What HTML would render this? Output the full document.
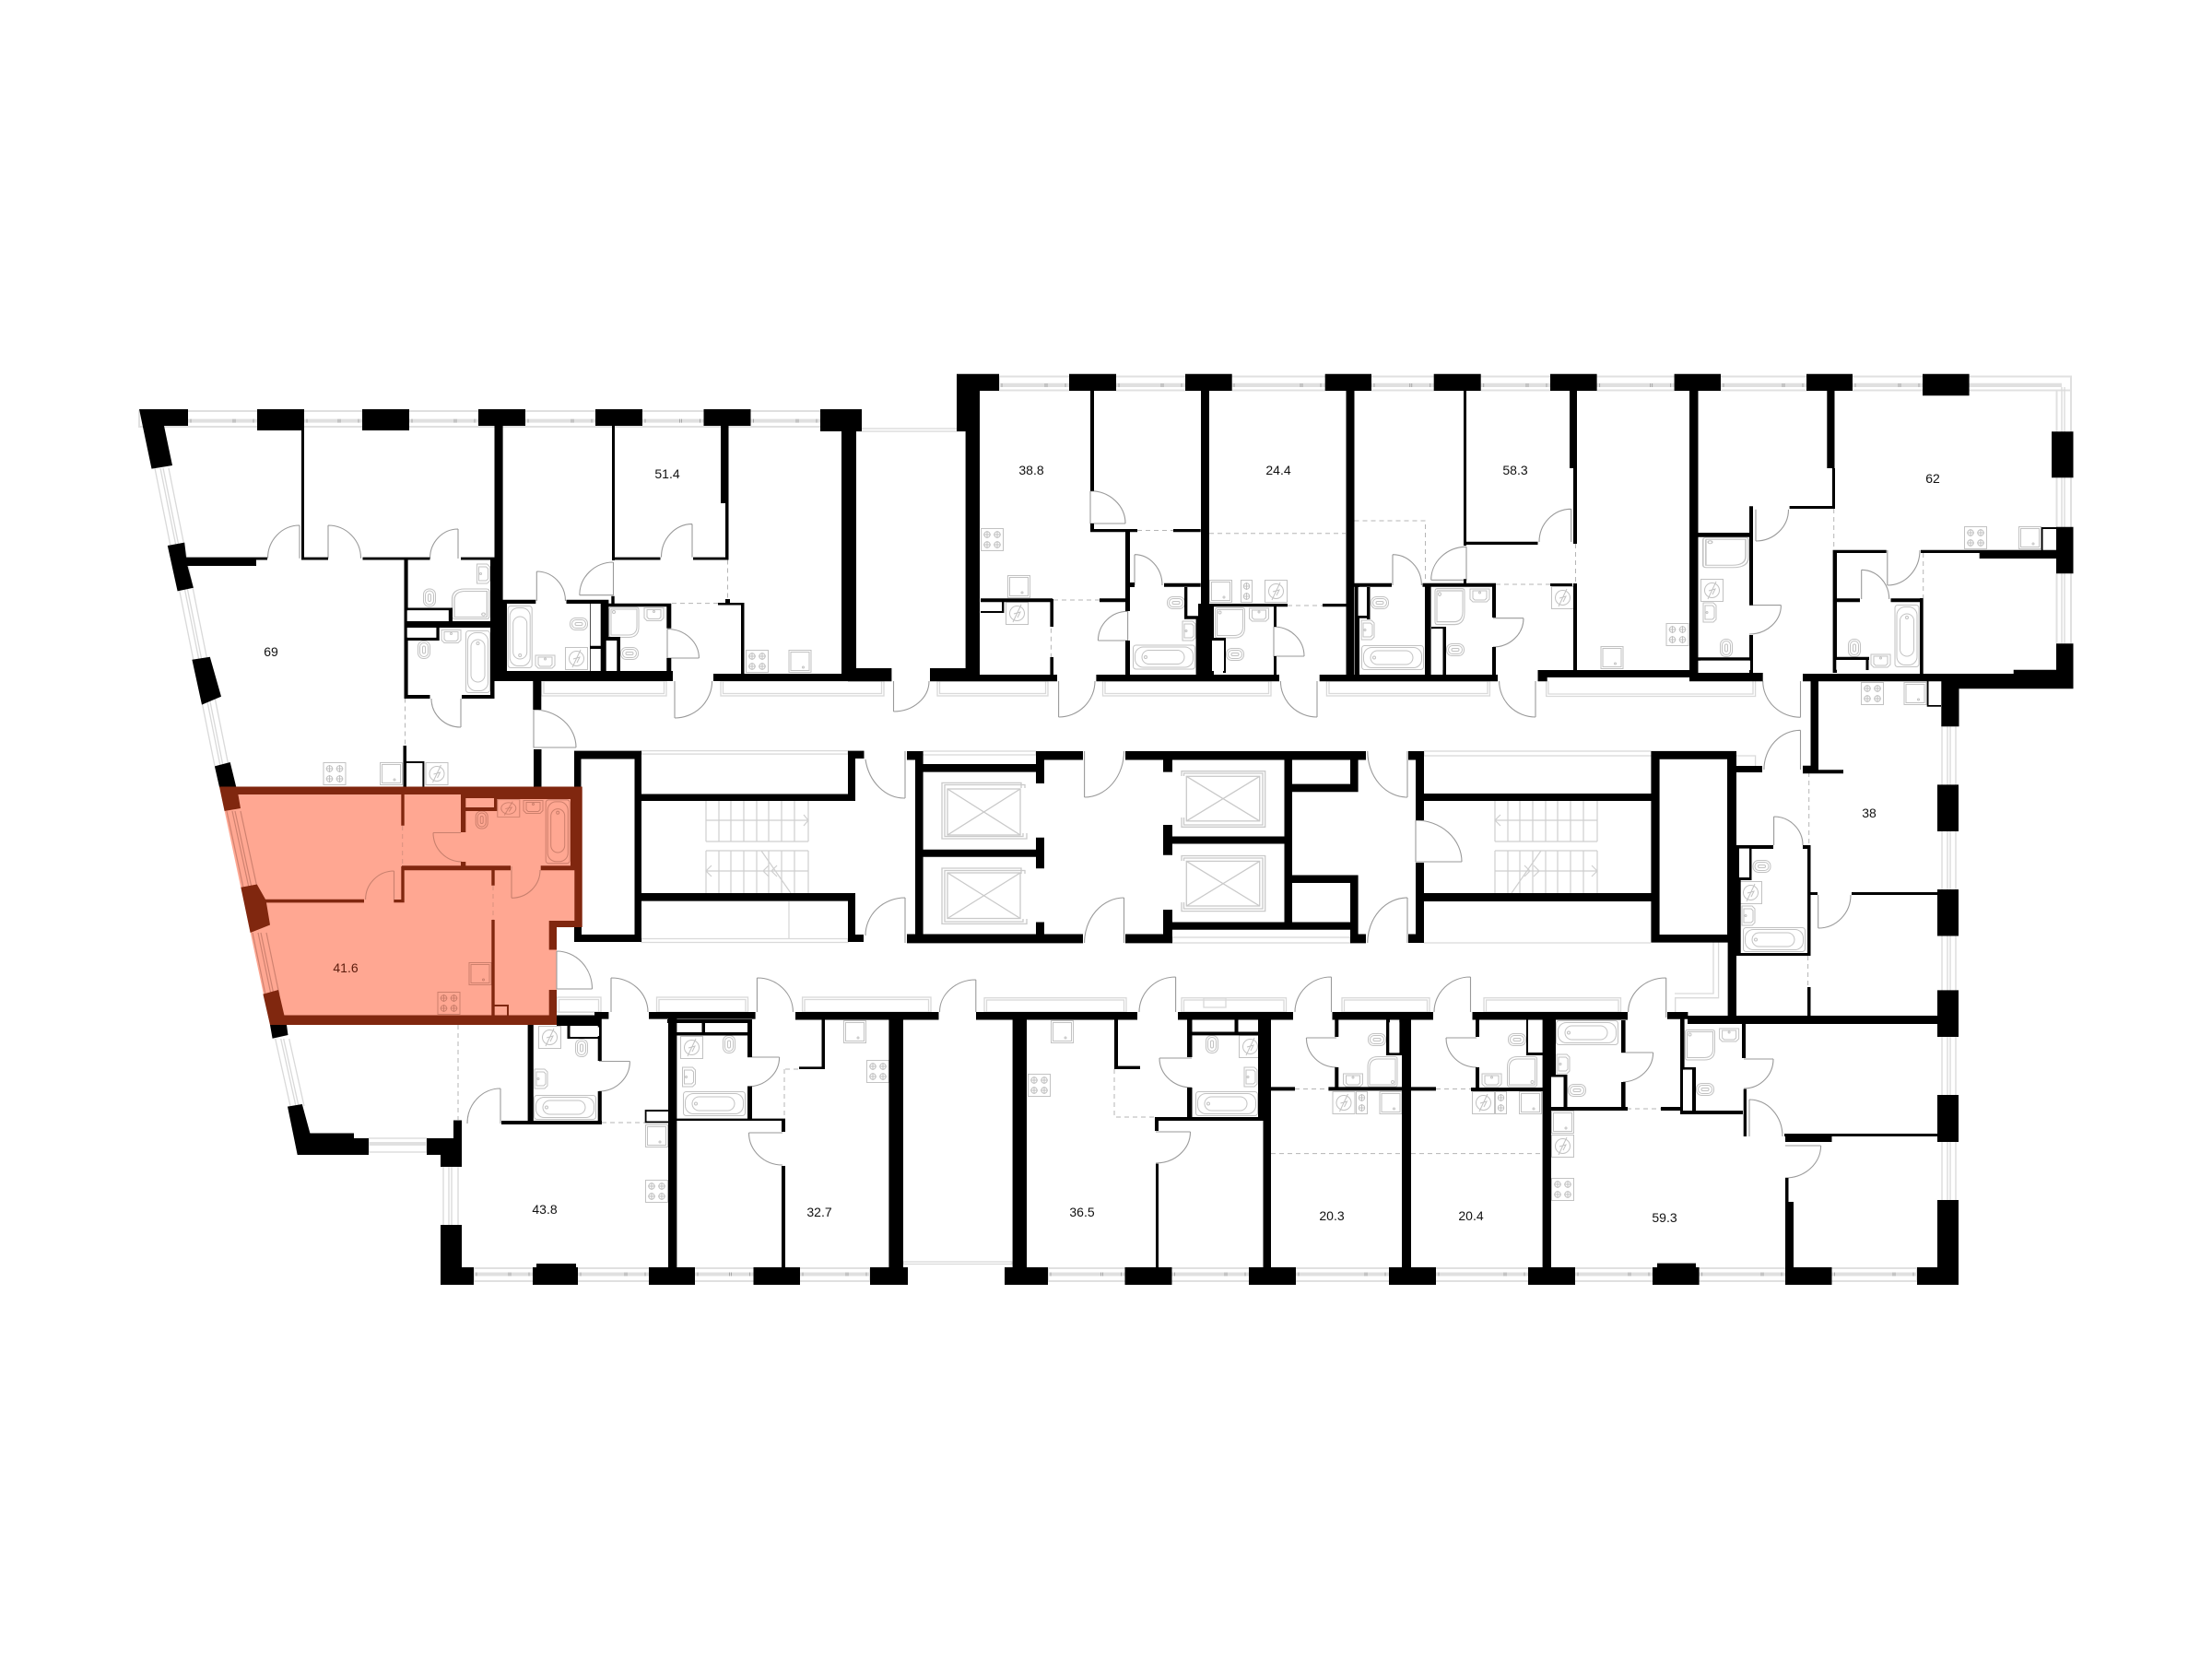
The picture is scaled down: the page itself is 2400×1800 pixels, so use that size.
<!DOCTYPE html>
<html><head><meta charset="utf-8"><title>Floor plan</title>
<style>html,body{margin:0;padding:0;background:#fff}svg{display:block}text{font-family:"Liberation Sans",sans-serif;font-size:14px;text-anchor:middle;fill:#111}</style>
</head><body>
<svg xmlns="http://www.w3.org/2000/svg" width="2400" height="1800" viewBox="0 0 2400 1800">
<defs>
<g id="st" fill="none"><rect x=".5" y=".5" width="24" height="24"/><circle cx="7" cy="7" r="3.2"/><circle cx="18" cy="7" r="3.2"/><circle cx="7" cy="18" r="3.2"/><circle cx="18" cy="18" r="3.2"/><path d="M7 3v8M3 7h8M18 3v8M14 7h8M7 14v8M3 18h8M18 14v8M14 18h8"/></g>
<g id="sc" fill="none"><rect x=".5" y=".5" width="12" height="24"/><circle cx="6.5" cy="7" r="3.2"/><circle cx="6.5" cy="18" r="3.2"/><path d="M6.5 3v8M3 7h7M6.5 14v8M3 18h7"/></g>
<g id="sq" fill="none"><rect x=".5" y=".5" width="24" height="24"/><rect x="2.5" y="2.5" width="20" height="20"/><circle cx="16" cy="19" r="1"/></g>
<g id="vt" fill="none"><rect x=".5" y=".5" width="24" height="24"/><circle cx="12.5" cy="12.5" r="8"/><path d="M8 22L17 3M9 13l7-2-3 6"/></g>
<g id="ba" fill="none"><rect x=".5" y=".5" width="26" height="67" rx="3"/><rect x="2.5" y="2.5" width="22" height="63" rx="9"/><rect x="6" y="10" width="15" height="46" rx="7.5"/><circle cx="13.5" cy="14" r="1.5"/></g>
<g id="to" fill="none"><rect x=".5" y=".5" width="13" height="19" rx="6"/><rect x="2.5" y="2.5" width="9" height="15" rx="4.5"/><rect x="5.5" y="6" width="3" height="8" rx="1.5"/></g>
<g id="si" fill="none"><path d="M1 1h21v11l-3 3H4l-3-3z"/><path d="M4 3h15v8l-2 2H6l-2-2z"/><circle cx="11.5" cy="5" r="1"/></g>
<g id="sh" fill="none"><path d="M3 .5H30q2.500 0 2.500 2.500V22q0 11-11 11H3q-2.500 0-2.500-2.500V3Q.5.5 3 .5z"/><path d="M3 2.500H30.500V21q0 9.500-9.500 9.500H2.500V3z"/><circle cx="5.500" cy="5.500" r="1.500"/></g>
</defs>

<!-- windows -->
<g fill="none" stroke="#e0e0e0" stroke-width="2">
<rect x="151" y="446" width="779" height="17"/>
<rect x="1084" y="408.500" width="1163" height="15"/>
<rect x="514" y="1376" width="430" height="14"/>
<rect x="1137" y="1376" width="943" height="14"/>
<path d="M2231.500 424V698M2247 408V698"/>
</g>
<g fill="none" stroke="#d9d9d9" stroke-width="1.3">
<rect x="929" y="465" width="119" height="3"/>
<path d="M2237 420V698M2240 420V698"/>
<rect x="980" y="1369" width="118" height="2.500"/>
<rect x="587.500" y="739" width="135.500" height="16"/><rect x="590" y="739" width="130.500" height="13.500"/>
<rect x="782" y="739" width="177" height="16"/><rect x="784.500" y="739" width="172" height="13.500"/>
<rect x="1017" y="739" width="120" height="16"/><rect x="1019.500" y="739" width="115" height="13.500"/>
<rect x="1196.500" y="739" width="182.500" height="16"/><rect x="1199" y="739" width="177.500" height="13.500"/>
<rect x="1439.400" y="739" width="177" height="16"/><rect x="1442" y="739" width="172" height="13.500"/>
<path d="M1677.700 739V755.500H1904.600V739M1680 739V753H1902V739"/>
<rect x="696" y="814.600" width="224" height="3.500"/>
<rect x="696" y="1018.500" width="224" height="4"/>
<path d="M856 978V1019"/>
<rect x="1001" y="815" width="123" height="4"/>
<rect x="1272" y="1017" width="193" height="6"/>
<rect x="1545" y="815" width="338" height="5"/>
<path d="M1883 820h21.600v11M1545 1023h246"/>
<path d="M1864.600 1021V1082.700H1817.700V1098M1859 1021V1078H1817"/>
<rect x="604" y="1082" width="48" height="16"/><rect x="606.500" y="1084.500" width="43" height="14"/>
<rect x="712.500" y="1082" width="99" height="16"/><rect x="715" y="1084.500" width="94" height="14"/>
<rect x="870.600" y="1082" width="139.400" height="16"/><rect x="873" y="1084.500" width="134.500" height="14"/>
<rect x="1068" y="1082.700" width="154" height="15.300"/><rect x="1070.500" y="1085" width="149" height="13.500"/>
<rect x="1282" y="1082.700" width="113.500" height="15.300"/><rect x="1284.500" y="1085" width="108.500" height="13.500"/>
<rect x="1306" y="1083" width="24" height="10"/>
<rect x="1456" y="1082.700" width="95" height="15.300"/><rect x="1458.500" y="1085" width="90" height="13.500"/>
<rect x="1610" y="1082.700" width="148.500" height="15.300"/><rect x="1612.500" y="1085" width="143.500" height="13.500"/>
<rect x="400" y="1235" width="63" height="15"/>
<path d="M481 1266V1329M497 1266V1329M487 1266V1329M490 1266V1329"/>
<path d="M2107 788V1302M2122 788V1302M2113 788V1302M2116 788V1302"/>
<path d="M168 508L233 831M174 508L239 831M177 508L242 831M183 508L248 831"/>
<path d="M298.700 1127L315 1200M304.700 1127L321 1200M307.700 1127L324 1200M313.700 1127L330 1200"/>
</g>
<g fill="#e0e0e0">
<rect x="204" y="454.600" width="686" height="4"/>
<rect x="1084" y="415.700" width="1153" height="4.300"/>
<rect x="514" y="1380.500" width="430" height="4"/>
<rect x="1137" y="1380.500" width="943" height="4"/>
<rect x="400" y="1239" width="63" height="4"/>
</g>
<path fill="none" stroke="#a8a8a8" stroke-width="1" d="
M207 454.600v4M255 454.600v4M253 454.600v4M275 454.600v4M333 454.600v4M369 454.600v4M367 454.600v4M389 454.600v4M447 454.600v4M495 454.600v4M493 454.600v4M515 454.600v4M573 454.600v4M622 454.600v4M620 454.600v4M642 454.600v4M700 454.600v4M739.500 454.600v4M737.500 454.600v4M759.500 454.600v4M817.500 454.600v4M866 454.600v4M864 454.600v4M886 454.600v4
M1087 416v4M1136 416v4M1134 416v4M1156 416v4M1214 416v4M1262 416v4M1260 416v4M1282 416v4M1339 416v4M1413 416v4M1411 416v4M1433 416v4M1491 416v4M1531.700 416v4M1529.700 416v4M1551.700 416v4M1609.700 416v4M1658 416v4M1656 416v4M1678 416v4M1735.600 416v4M1792.600 416v4M1790.600 416v4M1812.600 416v4M1870 416v4M1936 416v4M1934 416v4M1956 416v4M2013 416v4M2062 416v4M2060 416v4M2082 416v4
M517 1380.500v4M554 1380.500v4M552 1380.500v4M574 1380.500v4M630 1380.500v4M680 1380.500v4M678 1380.500v4M700 1380.500v4M757 1380.500v4M793.500 1380.500v4M791.500 1380.500v4M813.500 1380.500v4M871 1380.500v4M920 1380.500v4M918 1380.500v4M940 1380.500v4M1140 1380.500v4M1196.500 1380.500v4M1194.500 1380.500v4M1216.500 1380.500v4M1274.500 1380.500v4M1331 1380.500v4M1329 1380.500v4M1351 1380.500v4M1409 1380.500v4M1483 1380.500v4M1481 1380.500v4M1503 1380.500v4M1561 1380.500v4M1634 1380.500v4M1632 1380.500v4M1654 1380.500v4M1712 1380.500v4M1769 1380.500v4M1767 1380.500v4M1789 1380.500v4M1846.600 1380.500v4M1913 1380.500v4M1911 1380.500v4M1933 1380.500v4M1990.500 1380.500v4M2056 1380.500v4M2054 1380.500v4M2076 1380.500v4"/>

<!-- red apartment fill -->
<path fill="#ffa792" d="M238 853.500H631.700V1006H604V1112H293z"/>
<g fill="none" stroke="#cf8270" stroke-width="1.2">
<path d="M246 880L264 963M252 880L270 963M255 880L273 963M261 880L279 963M274 1012L288 1079M280 1012L294 1079M283 1012L297 1079M289 1012L303 1079"/>
</g>

<!-- fixtures -->
<g stroke="#c2c2c2" stroke-width="1">
<use href="#st" x="350.500" y="827"/><use href="#sq" x="412" y="827"/><use href="#vt" x="461.500" y="827"/>
<use href="#ba" x="505" y="684"/><use href="#si" x="478" y="682.500"/><use href="#to" x="453" y="695"/>
<use href="#sh" transform="translate(531.500,672) rotate(180) scale(1.260,1)"/><use href="#si" transform="translate(516.500,634) rotate(-90)"/><use href="#to" x="459" y="638.500"/>
<use href="#ba" transform="translate(550.700,725) scale(1,-1)"/><use href="#si" x="580" y="710"/><use href="#vt" x="613" y="702"/><use href="#to" transform="translate(618,684) rotate(-90)"/>
<use href="#sh" x="660.500" y="658.500"/><use href="#si" x="698" y="658.500"/><use href="#to" transform="translate(673,716) rotate(-90)"/>
<use href="#st" x="809" y="705"/><use href="#sq" x="855.500" y="705"/>
<use href="#vt" x="584" y="1113"/><use href="#to" x="624" y="1127"/><use href="#si" transform="translate(579,1182) rotate(-90)"/><use href="#ba" transform="translate(579,1215) rotate(-90)"/>
<use href="#sq" x="700" y="1220"/><use href="#st" x="700" y="1280"/>
<use href="#vt" x="738" y="1124"/><use href="#to" x="784" y="1123"/><use href="#si" transform="translate(739.500,1180) rotate(-90)"/><use href="#ba" transform="translate(741,1211) rotate(-90)"/>
<use href="#sq" x="915" y="1107"/><use href="#st" x="940" y="1150"/><use href="#sq" x="1140" y="1107"/><use href="#st" x="1115" y="1165"/>
<use href="#to" x="1308" y="1123"/><use href="#vt" x="1344" y="1123"/><use href="#si" transform="translate(1349,1180) rotate(-90)"/><use href="#ba" transform="translate(1297,1211) rotate(-90)"/>
<use href="#to" transform="translate(1484,1135) rotate(-90)"/><use href="#sh" transform="translate(1516.500,1179.500) rotate(180)"/><use href="#si" x="1456.500" y="1164"/><use href="#vt" x="1445.500" y="1184"/><use href="#sc" x="1471" y="1184"/><use href="#sq" x="1496.500" y="1184"/>
<use href="#to" transform="translate(1636,1135) rotate(-90)"/><use href="#sh" transform="translate(1668,1179.500) rotate(180)"/><use href="#si" x="1607" y="1164"/><use href="#vt" x="1597" y="1184"/><use href="#sc" x="1622" y="1184"/><use href="#sq" x="1648" y="1184"/>
<use href="#ba" transform="translate(1688,1134) rotate(-90)"/><use href="#si" transform="translate(1688,1166) rotate(-90)"/><use href="#to" transform="translate(1701,1190) rotate(-90)"/><use href="#sq" x="1683" y="1205"/><use href="#vt" x="1683" y="1231"/><use href="#st" x="1683" y="1278"/>
<use href="#sh" x="1828" y="1117"/><use href="#si" x="1864.600" y="1115"/><use href="#to" transform="translate(1840,1189) rotate(-90)"/>
<use href="#to" transform="translate(1901.500,947) rotate(-90)"/><use href="#vt" x="1887" y="956"/><use href="#si" transform="translate(1889,1005) rotate(-90)"/><use href="#ba" transform="translate(1891,1033) rotate(-90)"/>
<use href="#st" x="1064" y="573"/><use href="#sq" x="1093" y="624"/><use href="#vt" x="1091" y="653"/>
<use href="#to" transform="translate(1266,661) rotate(-90)"/><use href="#si" transform="translate(1282,696) rotate(-90)"/><use href="#ba" transform="translate(1229,726.500) rotate(-90)"/>
<use href="#sq" x="1312" y="629"/><use href="#sc" x="1346" y="629"/><use href="#vt" x="1372" y="629"/><use href="#sh" x="1318" y="659"/><use href="#si" x="1354.500" y="659"/><use href="#to" transform="translate(1330,717) rotate(-90)"/>
<use href="#to" transform="translate(1487,661) rotate(-90)"/><use href="#si" transform="translate(1476,695) rotate(-90)"/><use href="#ba" transform="translate(1477,727) rotate(-90)"/>
<use href="#sh" transform="translate(1556.500,638) scale(1,1.200)"/><use href="#si" x="1594" y="638"/><use href="#to" transform="translate(1569,712) rotate(-90)"/><use href="#vt" x="1683" y="636"/>
<use href="#st" x="1807.500" y="676"/><use href="#sq" x="1736.500" y="701"/>
<use href="#sh" transform="translate(1847,582.700) scale(1.540,1)"/><use href="#vt" x="1845" y="628"/><use href="#si" transform="translate(1847,676) rotate(-90)"/><use href="#to" x="1866" y="693"/>
<use href="#st" x="2131" y="571"/><use href="#sq" x="2190" y="571"/><use href="#ba" x="2055.500" y="656"/><use href="#to" x="2005" y="693"/><use href="#si" x="2029" y="709"/>
<use href="#st" x="2019" y="740"/><use href="#sq" x="2065.500" y="740"/>
</g>
<g stroke="#cc7f6c" stroke-width="1">
<use href="#vt" transform="translate(539.300,867.300) scale(1,.78)"/><use href="#si" x="567" y="867.500"/><use href="#ba" transform="translate(591.700,867.300) scale(1,1.030)"/><use href="#to" x="515.700" y="879.500"/><use href="#sq" x="508.500" y="1044"/><use href="#st" x="474.500" y="1076"/>
</g>

<!-- stairs and lifts -->
<g fill="none" stroke="#cfcfcf" stroke-width="1.200">
<path d="M766 869V913M780 869V913M793 869V913M807 869V913M821 869V913M834 869V913M848 869V913M862 869V913M877 869V913M766 923V969M780 923V969M793 923V969M807 923V969M821 923V969M834 923V969M848 923V969M862 923V969M877 923V969"/>
<path d="M766 890H877M766 913H877M766 923H877M766 945H877M826 923L858 969M872 884l5 6-5 6M772 939l-6 6 6 6M834 939l-6 6 6 6M843 939l-6 6 6 6"/>
<path d="M1622 869V913M1636 869V913M1649 869V913M1663 869V913M1677 869V913M1690 869V913M1704 869V913M1718 869V913M1733 869V913M1622 923V969M1636 923V969M1649 923V969M1663 923V969M1677 923V969M1690 923V969M1704 923V969M1718 923V969M1733 923V969"/>
<path d="M1622 890H1733M1622 913H1733M1622 923H1733M1622 945H1733M1672 923L1640 969M1628 884l-6 6 6 6M1727 939l6 6-6 6M1664 939l6 6-6 6M1654 939l6 6-6 6"/>
</g>
<g fill="none" stroke="#c9c9c9" stroke-width="1.300">
<path d="M1108 855V849.400H1022V910H1114V904M1112 855V851.500H1025V907.500H1110V904"/><rect x="1028" y="856" width="79" height="50"/><path d="M1028 856L1107 906M1107 856L1028 906"/>
<path d="M1108 948V942H1022V1002.400H1114V997M1112 948V944.500H1025V1000H1110V997"/><rect x="1028" y="947" width="79" height="49.500"/><path d="M1028 947L1107 996.500M1107 947L1028 996.500"/>
<path d="M1282 842V836.700H1372.700V897.300H1282V887M1284.500 842V839H1370V895H1284.500V887"/><rect x="1287.300" y="842.300" width="79.400" height="48.500"/><path d="M1287.300 842.300L1366.700 890.800M1366.700 842.300L1287.300 890.800"/>
<path d="M1282 934V928.500H1372.700V988.600H1282V979M1284.500 934V931H1370V986H1284.500V979"/><rect x="1287.300" y="934.400" width="79.400" height="48.600"/><path d="M1287.300 934.400L1366.700 983M1366.700 934.400L1287.300 983"/>
</g>

<!-- dashed partitions -->
<g fill="none" stroke="#b5b5b5" stroke-width="1" stroke-dasharray="5 4">
<path d="M439.500 757.500V809M789.500 607.500V650M729 654.600H779M497 1112V1215M653 1218H700M852 1160H867M851 1160V1214M1209 1160V1212H1253M1143 651H1193M1140.400 681.700V713M1234 575.500H1273M1312 578.700H1460M1397 657H1435M1469.500 565H1546.500V632M1623 634H1682M1709.500 590V633M1962.700 838V917M1961.600 1037V1071M1989.700 552V597M2086.700 600V649M1405 1181.500H1441M1558 1181.500H1597M1379 1251.600H1521M1531 1251.600H1673M1765 1203H1802"/>
</g>
<path fill="none" stroke="#d8917e" stroke-width="1" stroke-dasharray="5 4" d="M436.700 896V940M535 961V998"/>

<!-- doors -->
<path fill="none" stroke="#9a9a9a" stroke-width="1.100" d="
M325 570V605.700M325 570A34.500 35.700 0 0 0 290.500 605.700
M356 570V605.700M356 570A35.500 35.700 0 0 1 391.500 605.700
M497 574V606M497 574A30.500 32 0 0 0 466.500 606
M751 568.600V604.600M751 568.600A33.500 36 0 0 0 717.500 604.600
M665.500 610V645.700H628.800M665.500 610A36.700 35.700 0 0 0 628.800 645.700
M582.300 620V652M582.300 620A31.200 32 0 0 1 613.500 652
M724 682.500V714H758.400M758.400 714A34.400 31.500 0 0 0 724 682.500
M732 739V779M732 779A40.600 40 0 0 0 772.600 739
M579 770V811H625M625 811A46 41 0 0 0 579 770
M500 758V789M500 789A32 31 0 0 1 468 758
M650 1151.500H683.400M683.400 1151.500A33.400 32.500 0 0 1 650 1184
M543 1181V1219M543 1181A36 38 0 0 0 507 1219
M604 1032V1073H642.500M642.500 1073A38.500 41 0 0 0 604 1032
M663 1061V1098M663 1061A40 37 0 0 1 703 1098
M821.400 1061V1098M821.400 1061A39 37 0 0 1 860.400 1098
M811 1147H845.600M845.600 1147A34.600 32 0 0 1 811 1179
M849 1229H812.500M812.500 1229A36.500 35 0 0 0 849 1264
M1058.800 1063V1098M1058.800 1063A39.300 35 0 0 0 1019.500 1098
M1275.600 1060V1098M1275.600 1060A39.600 38 0 0 0 1236 1098
M1444.500 1060V1098M1444.500 1060A39.500 38 0 0 0 1405 1098
M1595.500 1060V1098M1595.500 1060A39.500 38 0 0 0 1556 1098
M1293 1148H1258M1258 1148A35 32 0 0 0 1293 1180
M1254 1228H1291.500M1291.500 1228A37.500 34 0 0 1 1254 1262
M1450 1126H1417.400M1417.400 1126A32.600 32 0 0 0 1450 1158
M1602 1126H1569M1569 1126A33 32 0 0 0 1602 1158
M1759 1142H1793.600M1793.600 1142A34.600 32 0 0 1 1761 1174
M1807.700 1061V1104M1807.700 1061A41 37 0 0 0 1766.600 1098
M1892 1149H1924M1924 1149A32 32 0 0 1 1892 1181
M1898 1193V1233M1898 1193A36 40 0 0 1 1934 1233
M1937 1243H1975.600M1975.600 1243A38.600 35 0 0 1 1937 1278
M1924.600 886V917M1924.600 886A31.400 31 0 0 1 1956 917
M1972.700 971V1007M1972.700 1007A35.300 36 0 0 0 2008 971
M1905 552.700V587M1905 587A35.500 34.300 0 0 0 1940.500 552.700
M2047.800 597V635M2047.800 635A35.200 38 0 0 0 2083 597
M2019.700 618.300V650M2019.700 618.300A30 31.700 0 0 1 2049.700 650
M1953.500 739V778.300M1953.500 778.300A40.800 39.300 0 0 1 1912.700 739
M1953.500 792.300V835M1953.500 792.300A39.600 42.700 0 0 0 1913.900 835
M1898 656.600H1932.400M1932.400 656.600A34.400 31.400 0 0 1 1898 688
M969.500 739V772M969.500 772A38.500 33 0 0 0 1008 739
M1148.600 739V778M1148.600 778A39.400 39 0 0 0 1188 739
M1429 739V778M1429 778A39.600 39 0 0 1 1389.400 739
M1666 739V778M1666 778A39.400 39 0 0 1 1626.600 739
M1183 532.700V568H1221M1221 568A38 35.300 0 0 0 1183 532.700
M1223.600 663.300V695H1191.400M1191.400 695A32 32 0 0 1 1223.600 663.300
M1231 601.700V635M1231 601.700A30 33.300 0 0 1 1261 635
M1382 680V712H1415M1415 712A33 32 0 0 0 1382 680
M1511 601.700V635M1511 601.700A31.400 33.300 0 0 1 1542.400 635
M1620 670.700H1653M1653 670.700A33 31.300 0 0 1 1620 702
M1704.700 552.300V588M1704.700 552.300A34.700 35.700 0 0 0 1670 588
M1591 593.300V629.300H1552.700M1552.700 629.300A38.300 36 0 0 1 1591 593.300
M982 815V866M982 866A43 51 0 0 1 939 824
M982 974V1023M982 974A43 41 0 0 0 939 1015
M1176.600 815V865M1176.600 865A43 50 0 0 0 1219.500 815
M1219.500 974V1023M1219.500 974A43 49 0 0 0 1176.600 1023
M1527 815V865M1527 865A43 50 0 0 1 1483.800 815
M1527 974V1023M1527 974A43 49 0 0 0 1483.800 1023
M1536 890V935H1586M1586 935A50 45 0 0 0 1536 890
"/>
<path fill="none" stroke="#c8806e" stroke-width="1.100" d="
M427.500 945V976M427.500 945A31 31 0 0 0 396.600 976
M470 903.500H500M470 903.500A31 31.500 0 0 0 501 935
M555 940V974.300M555 974.300A31 30.300 0 0 0 586 944
"/>

<!-- black walls -->
<path fill="#000" d="
M151 444H204V462H178L187 505L164.500 508.600z
M181.800 592L200.200 588.600L202 604.600H278V614H203.500L209.900 637.800L192.600 641.400z
M208.400 715.700L227.800 712.800L240 755.700L219 764.600z
M232.900 831.400L249.700 827L256.300 854H238z
M293 1112H311L312.500 1123L295.600 1126.700z
M312 1200.600L327.800 1198L336.400 1229.500H384V1235H400V1253H322.700z
M2083 731H2184.700V726.700H2231V698.300H2249.500V747.300H2125.500V788.300H2106.300V739.300H1956V731z
M279 444H330V467H279zM393 444H444V467H393zM519 444H570V462H519zM646 444H697V462H646zM763.500 444H814.500V462H763.500zM890 444H935V468H890z
M327 462H330V607.500H327zM278 604.600H290V607.500H278zM327 604.600H356V607.500H327zM393.500 604.600H466.500V607.500H393.500zM500 604.600H536.500V607.500H500z
M536.500 462H545.600V739H536.500zM545.600 650.700H550V739H545.600zM536.500 728H730V739H536.500zM545.600 650.700H581.300V655H545.600zM614.500 650.700H640V655H614.500z
M640 650.700H660.400V731H640zM653 691H673V731H653zM653 654.700H728.300V658.300H653zM723.300 654.700H728.300V681.700H723.300zM723.300 714H728.300V731H723.300z
M664 462H667V608H664zM663.300 646.700H666.700V655H663.300zM665.500 604.600H716.500V607.500H665.500zM752 604.600H790.500V607.500H752zM782 462H790.500V546H782zM787 546H790.500V607.500H787z
M779 654H807.500V656.500H779zM787 650H792V656H787zM804 654H807.500V731H804zM774 731H929V739H774zM913 462H929V739H913z
M438.500 607.500H442.600V758H438.500zM438.500 754H466.500V758H438.500zM501 754H536.500V758H501zM532 607.500H536.500V758H532zM442 659.500H491V662.300H442zM486.700 659.500H491V674H486.700zM442 674H532V681H442zM473.300 681H476.700V695H473.300zM442 691.700H476.700V695H442z
M578.300 739H587.300V770H578.300zM579 813H587.500V854H579zM437.500 809H441V854H437.500zM441 826H460.400V828H441zM458.400 826H460.400V854H458.400z
M623 814.600H696V823.500H623zM623 814.600H631V854H623zM623 1006H631V1022H623zM688.500 814.600H696V1022H688.500zM623 1014H696V1022H623z
M696 861.500H928V869H696zM696 969H928V977.600H696zM920 814.600H937.500V823H920zM920 814.600H928V869H920zM920 977H928V1022H920zM920 1014H937V1022H920z
M572.600 1112H578.800V1217H572.600zM544 1216H653V1220H544zM648.700 1112H652.800V1151H648.700zM648.700 1184H652.800V1217H648.700zM604 1101.500H652.800V1113H604zM645 1098H660.400V1105.600H645zM615.500 1113H618.600V1127H615.500zM615.500 1125H652V1127H615.500z
M492 1215.500H501V1266H492zM463 1235H501V1253H463zM478 1253H501V1266H478zM478 1329H501V1394H478zM478 1375H514V1394H478z
M578 1375H627V1394H578zM582 1371H625V1375H582zM704 1375H754V1394H704zM817.500 1375H868V1394H817.500zM944 1375H985V1394H944zM1090 1375H1137V1394H1090zM1220.500 1375H1271.500V1394H1220.500zM1355 1375H1406V1394H1355zM1507 1375H1558V1394H1507zM1658 1375H1709V1394H1658zM1793 1375H1843.600V1394H1793zM1798 1370.600H1840V1375H1798zM1937 1375H1987.500V1394H1937zM2080 1375H2125V1394H2080z
M725 1098H734.400V1375H725zM704 1098H819.600V1105.600H704zM724 1106H816V1110H724zM811 1106H816V1147H811zM811 1178.500H816V1215H811zM734.400 1213.600H852V1216H734.400zM848 1213.600H852V1228H848zM848 1265H852V1375H848zM734 1120H812V1123.500H734zM761.500 1110H765V1120H761.500z
M863 1098H1018.500V1106.500H863zM891.500 1106H895V1160H891.500zM867 1157.400H895V1160H867zM964.400 1106H980V1375H964.400z
M1059 1098H1234V1106.500H1059zM1098.600 1106H1114V1375H1098.600zM1209 1106H1213V1158H1209zM1209 1156.600H1237V1160H1209zM1253 1212H1369V1216H1253zM1253 1212H1257V1227H1253zM1254 1262.600H1257V1375H1254zM1370.500 1106H1379V1375H1370.500z
M1278 1098H1403V1106.500H1278zM1288 1106H1293.500V1147H1288zM1288 1180H1293.500V1216H1288zM1288 1119.500H1370V1123.400H1288zM1339.500 1106H1343.500V1120H1339.500zM1365 1106H1370.500V1216H1365z
M1445.500 1098H1555V1106.500H1445.500zM1448.300 1106H1452.300V1125H1448.300zM1448.300 1158H1452.300V1181H1448.300zM1504 1106H1508V1144H1504zM1504 1142.300H1521V1145H1504zM1518.300 1106H1521V1145H1518.300zM1521 1106H1531V1375H1521zM1441.400 1179.400H1521V1183.400H1441.400zM1531 1179.400H1558V1183.400H1531zM1379 1179.400H1405V1183.400H1379z
M1597.500 1098H1766V1106.500H1597.500zM1601 1106H1605V1125H1601zM1601 1158H1605V1181H1601zM1596 1180H1674V1184H1596zM1656 1106H1658V1144H1656zM1656 1142H1673.600V1145H1656zM1673.600 1106H1683V1375H1673.600zM1683 1106H1688V1168H1683zM1683 1166H1700.500V1168.500H1683zM1696.500 1166H1700.500V1205H1696.500zM1683 1201H1766V1205H1683zM1759 1107H1763.600V1142H1759zM1759 1174H1763.600V1203H1759z
M1802 1201H1823V1205H1802zM1823 1105H1827.600V1209H1823zM1823 1205H1891V1209H1823zM1836 1158H1840V1209H1836zM1826 1158H1840V1160.600H1826zM1809 1098H1831.400V1105.700H1809zM1831 1102H2102V1111H1831zM1874.600 1022H1884V1102H1874.600z
M1884 917H1888.700V1037H1884zM1884 917H1924V921H1884zM1956 917H1964.500V921H1956zM1961 917H1964.500V1037H1961zM1884 1034H1964.500V1037H1884zM1898 917H1900.500V955H1898zM1884 952H1900.500V955H1884zM1964.500 968H1972V971H1964.500zM2009 968H2102V971H2009zM1961 1071H1964.500V1102H1961z
M1890 1111H1894V1148H1890zM1891.700 1181.600H1895V1233H1891.700zM1936 1230H2102V1233H1936zM1937 1230H1987.500V1239H1937zM1937 1278H1940.500V1304H1937zM1937 1304H1946V1394H1937z
M2102 851.400H2125V902H2102zM2102 965H2125V1015.500H2102zM2102 1074.400H2125V1125H2102zM2102 1188H2125V1239H2102zM2102 1302H2125V1394H2102z
M1791.400 815H1884V1022.600H1791.400zM1884 831H1912V838H1884z
M1528 815H1545V824.500H1528zM1536 815H1545V890H1536zM1536 936H1545V1023H1536zM1528 1013.500H1545V1023H1528zM1545 861H1792V869H1545zM1545 969H1792V978H1545z
M984 815H1001.600V824.500H984zM993 815H1001.600V1023.400H993zM984 1013.500H1175V1023.400H984zM1124 815H1175V824.500H1124zM1001.600 829H1124V837.600H1001.600zM1124 815H1133V850H1124zM1001.600 921.800H1124V929.700H1001.600zM1124 908.700H1133V942.300H1124zM1124 1000.500H1133V1014H1124z
M1221 815H1482V824.500H1221zM1262 824.500H1272V837.600H1262zM1262 895H1272V927.700H1262zM1272 907.500H1394.500V915.500H1272zM1262 987H1272V1023.400H1262zM1221 1013.500H1272V1023.400H1221zM1272 1000.500H1465V1008.800H1272zM1393.500 815H1402V1008.800H1393.500zM1402 850.600H1465V859.300H1402zM1465 824.500H1473.600V859.300H1465zM1402 949.500H1473.600V958H1402zM1465 949.500H1473.600V1023.400H1465zM1465 1013.500H1482V1023.400H1465z
M1038 405.700H1084V424H1038zM1038 405.700H1063V468H1038zM1160 405.700H1211V424H1160zM1286 405.700H1336.700V424H1286zM1437.700 405.700H1488V424H1437.700zM1555.700 405.700H1606.700V424H1555.700zM1682 405.700H1732.600V424H1682zM1816.600 405.700H1867V424H1816.600zM1960 405.700H2010V424H1960zM2086 405.700H2136.600V429.300H2086z
M1047.600 468H1063V739H1047.600zM1063 732H1147V739.300H1063zM1009 725H1063V739.300H1009zM920 725H967.400V739.300H920z
M1183 424H1187V532.700H1183zM1183 568H1187V577H1183zM1183 574H1234V577.300H1183zM1273 574H1302.700V577.300H1273zM1221 577H1226V663H1221zM1221 695H1226V732H1221zM1303 424H1312V732H1303zM1297.600 655H1317V732H1297.600zM1263 632.700H1302.700V636.700H1263zM1224.600 632H1231V637H1224.600zM1285 637H1288.400V670H1285zM1285 668H1300V671.700H1285zM1314 692H1329.400V695H1314zM1327 692H1330V730H1327zM1312 655H1397V658.300H1312zM1435 655H1461V658.300H1435zM1382 658H1385V680H1382zM1382 712H1385V732H1382zM1189.400 732H1388V739.300H1189.400z
M1460.500 424H1469.500V732H1460.500zM1469.500 632.700H1510V636.700H1469.500zM1543.500 632.700H1623V636.700H1543.500zM1470 633H1475V732H1470zM1483 637H1486.500V672H1483zM1473 668H1486V670.700H1473zM1546 633H1552.600V732H1546zM1553 680H1568V682.300H1553zM1565.400 680H1569V732H1565.400zM1619 636.700H1623V670H1619zM1619 702H1623V732H1619zM1431.700 732H1625V739.300H1431.700z
M1588 424H1591V592H1588zM1588 587.700H1668.500V591H1588zM1588 628.300H1591V635H1588zM1682 633H1706V636H1682zM1703 424H1711V508H1703zM1707 508H1711V590H1707zM1707 633H1711V727H1707zM1668.500 727H1678.700V739.300H1668.500zM1678.700 727H1833V735H1678.700zM1833 730H1912.700V739.300H1833z
M1064 649.300H1142V653.300H1064zM1139.400 650H1143V680H1139.400zM1139.400 713H1143V732H1139.400zM1193 649.300H1221V653.300H1193zM1087 653.300H1089.400V665H1087zM1064 663H1089V665H1064z
M1833 424H1842.500V739H1833zM1842.500 578H1901.600V582.700H1842.500zM1898 549.300H1902V656.600H1898zM1898 689H1902V730H1898zM1842.500 713.300H1901V716.700H1842.500zM1941.600 549H1990.500V552H1941.600zM1982.300 424H1990.500V508H1982.300zM1987.900 508H1991V552H1987.900z
M1988.600 596.700H2046.700V600H1988.600zM2084 596.700H2231V600H2084zM2147.700 597H2231V606H2147.700zM1988.600 597H1993V730H1988.600zM1992 649.300H2018V653.300H1992zM2051.500 649.300H2086.700V653.300H2051.500zM2083 649H2086.700V731H2083zM1992 712.700H2028V716H1992zM2024.500 713H2027.500V727H2024.500z
M1964.500 739.300H1973V836.700H1964.500zM1956 830.700H1973V839.300H1956zM1973 835.300H2000V839.300H1973zM2090.700 739H2092.500V766.700H2090.700zM2090.700 765H2106V766.700H2090.700z
M2226 468.300H2249.500V518.300H2226zM2231 571.700H2249.500V622.300H2231zM2214.700 572H2231V574H2214.700zM2214.700 572H2216.500V597H2214.700z
M699.700 1204H725V1206H699.700zM699.700 1204H701.500V1218.400H699.700zM699.700 1216.500H725V1218.400H699.700z
"/>
<!-- white holes -->
<path fill="#fff" d="M640.700 655H651.700V700.700H640.700zM640.700 704H651.700V728H640.700zM657.700 695H669.300V728H657.700zM630.500 823.500H688.500V854H630.500zM631 1006.500H688.500V1014H631zM1800.600 823.700H1874V1014H1800.600zM618.600 1114.500H650V1124H618.600zM1293.500 1110H1339.500V1119.500H1293.500zM1343.500 1110H1365V1119.500H1343.500zM1887 920.600H1898V952H1887zM1288.400 637H1300V668.300H1288.400zM1315 695H1328V728H1315zM1473.600 637H1483V668H1473.600zM1554.600 682.300H1565.400V727H1554.600zM1685 1168.500H1696.500V1201H1685zM1507.300 1109.300H1518.300V1142.300H1507.300zM1658 1110H1670V1142H1658zM1826 1160.600H1836V1205H1826zM1845 716.700H1899V727H1845zM1992.300 716H2024.500V726.700H1992.300zM739.500 1111H761.500V1120H739.500zM765 1111H811V1120H765zM441.700 662.300H486.700V674H441.700zM441.700 681H473.300V691.700H441.700z"/>
<path fill="#fff" d="M631.700 854H688.500V1006.500H631.700z"/>

<!-- red apartment walls -->
<path fill="#80270f" d="
M238 853.500H631.700V862H258.400L261 877L243.600 880z
M500 862H619V866H500zM536 862H619V867H536z
M619 853.500H631.700V944H619zM623.300 944H631.700V1006H623.300zM595.700 999H631.700V1006H595.700z
M595.700 999H604V1030.500H595.700zM595.700 1074H604V1101.500H595.700z
M308.400 1101.500H604V1112H293L285.400 1078.600L302 1074z
M261.400 962.800L278.800 959.500L288 975.700H395V979.400H289L293 1003.500L271.600 1012z
M435.300 862H438.700V895.700H435.300zM435.300 940H438.700V979.300H435.300zM427.300 976H438.700V979.300H427.300z
M436 939.300H554V944.300H436zM586.700 939.300H623.300V944.300H586.700z
M533.300 944H536.700V960.700H533.300zM533.300 998H536.700V1101.500H533.300z
M500 862H505.300V903H500zM500 935H505.300V940H500zM500 876H539.300V880H500zM536 862H539.300V880H536z
M535.500 1090H552V1092H535.500zM550 1090H552V1101.500H550z
"/>

<!-- labels -->
<text x="724" y="519">51.4</text>
<text x="294" y="712">69</text>
<text x="1119" y="515">38.8</text>
<text x="1387" y="515">24.4</text>
<text x="1644" y="515">58.3</text>
<text x="2097" y="524">62</text>
<text x="2028" y="887">38</text>
<text x="375" y="1055" style="fill:#5c1c0c">41.6</text>
<text x="591" y="1317">43.8</text>
<text x="889" y="1320">32.7</text>
<text x="1174" y="1320">36.5</text>
<text x="1445" y="1324">20.3</text>
<text x="1596" y="1324">20.4</text>
<text x="1806" y="1326">59.3</text>
</svg>
</body></html>
